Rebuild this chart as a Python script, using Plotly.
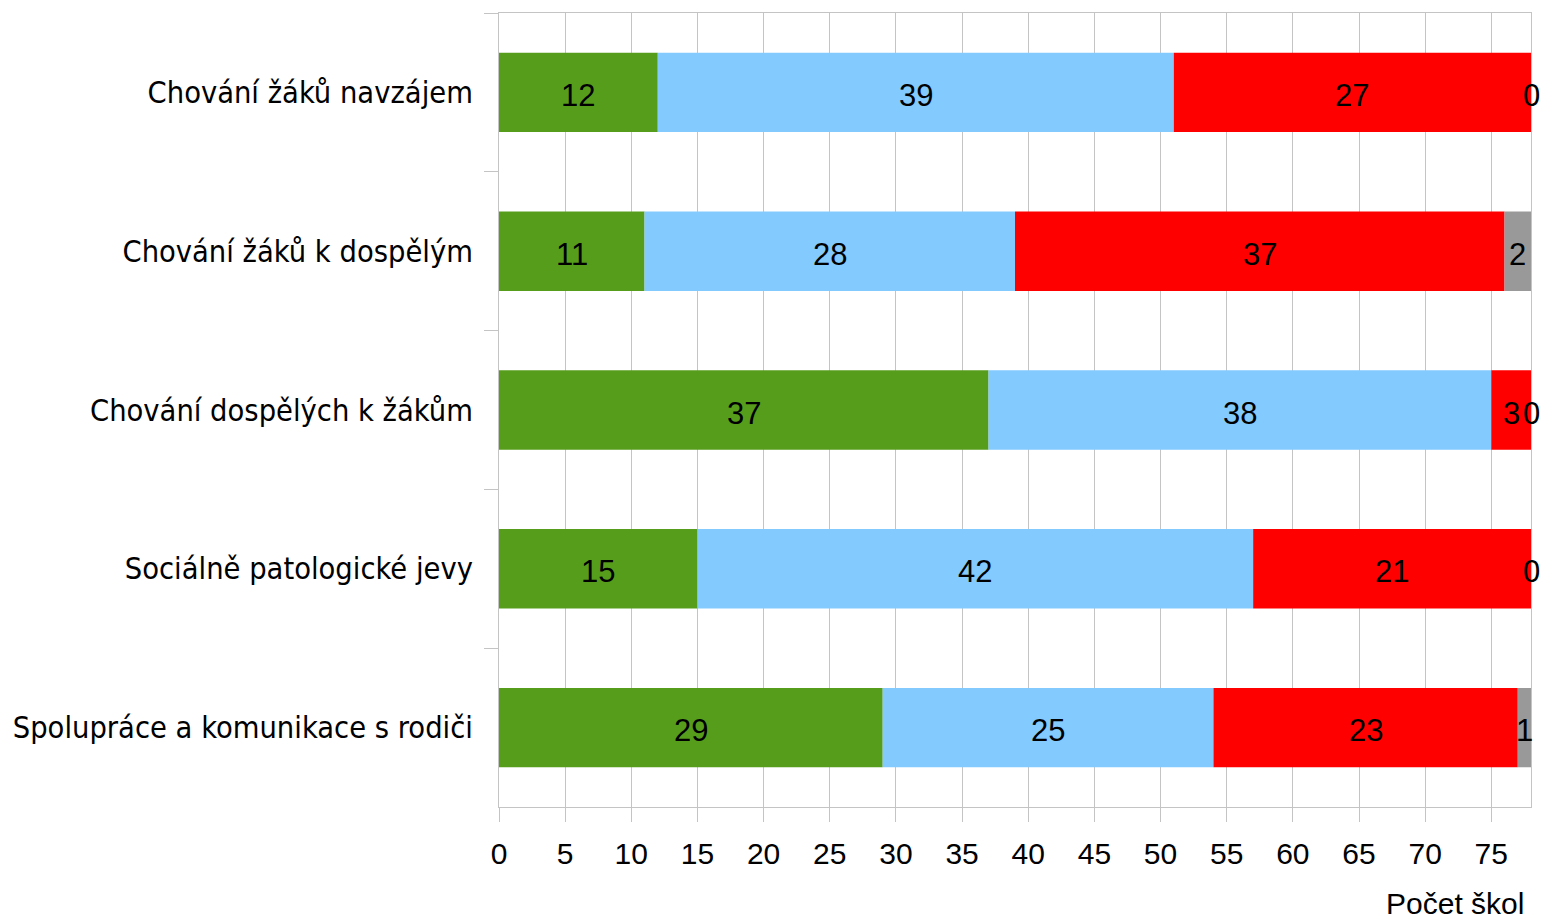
import numpy as np
import plotly.graph_objects as go

categories = [
    "Chování žáků navzájem",
    "Chování žáků k dospělým",
    "Chování dospělých k žákům",
    "Sociálně patologické jevy",
    "Spolupráce a komunikace s rodiči",
]
series_names = ["Zlepšení", "Beze změny", "Zhoršení", "Nelze posoudit"]
green_vals = [12, 11, 37, 15, 29]
blue_vals = [39, 28, 38, 42, 25]
red_vals = [27, 37, 3, 21, 23]
gray_vals = [0, 2, 0, 0, 1]
x_ticks = list(range(0, 80, 5))
x_title = "Počet škol"

colors = ["#579d1c", "#83caff", "#ff0000", "#999999"]
grid_color = "#c4c4c4"
label_font = "Liberation Sans Narrow, DejaVu Sans Condensed, sans-serif"
num_font = "Liberation Sans, Arial, sans-serif"

fig = go.Figure()

all_vals = [green_vals, blue_vals, red_vals, gray_vals]
left = np.zeros(len(categories))
for name, vals, color in zip(series_names, all_vals, colors):
    vals = np.array(vals, dtype=float)
    fig.add_trace(
        go.Bar(
            y=categories,
            x=vals,
            base=left,
            orientation="h",
            name=name,
            marker=dict(color=color, line=dict(width=0)),
            hoverinfo="x+y+name",
        )
    )
    # value labels centred in each segment (zero segments sit on the edge)
    for cat, start, v in zip(categories, left, vals):
        fig.add_annotation(
            x=start + v / 2,
            y=cat,
            text=str(int(v)),
            showarrow=False,
            xanchor="center",
            yanchor="middle",
            yshift=-3,
            font=dict(family=num_font, size=31, color="black"),
        )
    left = left + vals

fig.update_layout(
    width=1542,
    height=921,
    barmode="overlay",
    bargap=0.5,
    showlegend=False,
    plot_bgcolor="white",
    paper_bgcolor="white",
    margin=dict(l=499, r=11, t=13, b=114),
)

fig.update_xaxes(
    range=[0, 78],
    tickvals=x_ticks,
    ticktext=[str(v) for v in x_ticks],
    showgrid=True,
    gridcolor=grid_color,
    gridwidth=1,
    zeroline=False,
    showline=True,
    linecolor=grid_color,
    linewidth=1,
    mirror=True,
    ticks="outside",
    ticklen=14,
    tickcolor=grid_color,
    ticklabelstandoff=6,
    tickfont=dict(family=num_font, size=30, color="black"),
    automargin=False,
)

fig.update_yaxes(
    categoryorder="array",
    categoryarray=categories,
    autorange="reversed",
    tickson="boundaries",
    ticks="outside",
    ticklen=14,
    tickcolor=grid_color,
    showgrid=False,
    showline=True,
    linecolor=grid_color,
    linewidth=1,
    mirror=True,
    ticklabelstandoff=19,
    tickfont=dict(family=label_font, size=30.5, color="black"),
    automargin=False,
)

fig.add_annotation(
    text=x_title,
    xref="paper",
    yref="paper",
    x=0.995,
    y=-0.122,
    xanchor="right",
    yanchor="middle",
    showarrow=False,
    font=dict(family=num_font, size=30, color="black"),
)

# the page body has a default 8px margin; drop it so the figure fills the window
fig.write_html(
    "out.html",
    config={"displayModeBar": False},
    post_script="document.body.style.margin='0';",
)
